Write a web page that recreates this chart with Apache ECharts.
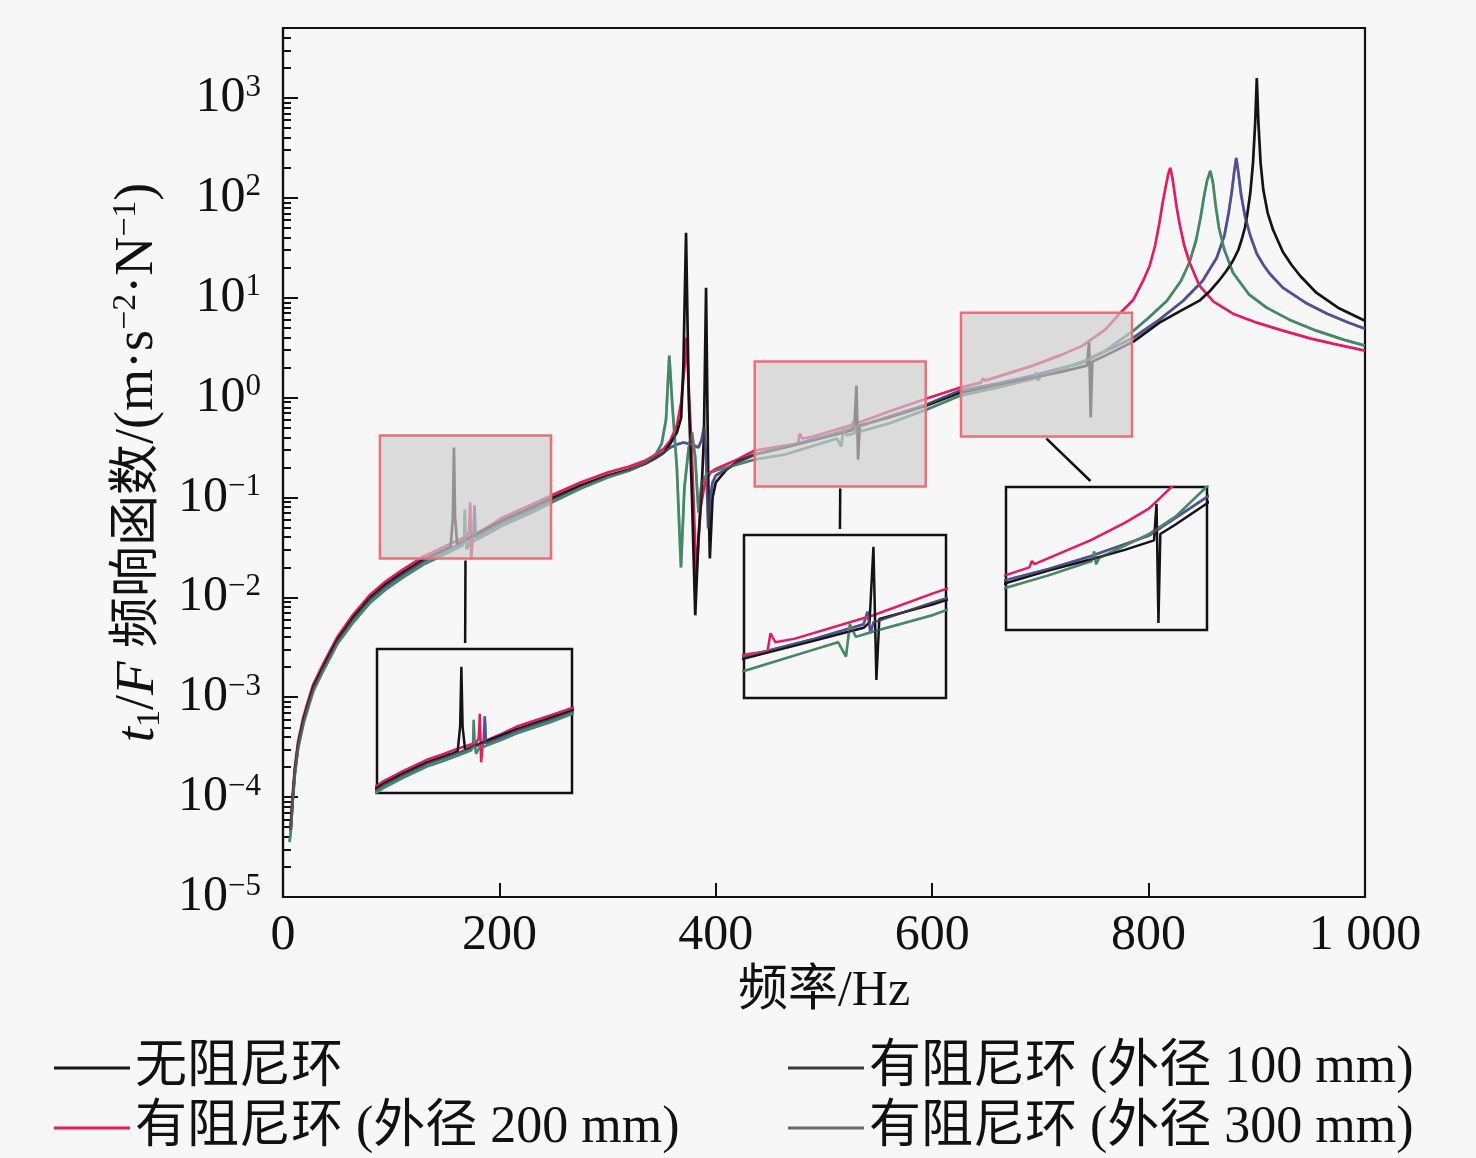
<!DOCTYPE html>
<html><head><meta charset="utf-8">
<script src="https://cdn.jsdelivr.net/npm/echarts@6/dist/echarts.min.js"></script>
<style>html,body{margin:0;padding:0;background:#f7f7f7}#c{width:1476px;height:1158px}</style>
</head><body><div id="c"></div>
<script>
const SERIF = '"Liberation Serif", "Noto Sans CJK SC", serif';

// ---- data: [frequency Hz, log10(t1/F)] ----
const seriesNames = ['无阻尼环', '有阻尼环 (外径 100 mm)', '有阻尼环 (外径 200 mm)', '有阻尼环 (外径 300 mm)'];

const noRing = [[7,-4.33],[9,-4.0],[11,-3.73],[14,-3.47],[18.8,-3.23],[24,-3.04],[28,-2.90],[37,-2.70],[50,-2.43],[65,-2.20],[80,-2.01],[95,-1.87],[111,-1.75],[130,-1.62],[142,-1.56],[150,-1.52],[155,-1.49],[157,-1.2],[158,-0.5],[159,-1.2],[161,-1.47],[173,-1.40],[203,-1.23],[230,-1.10],[250,-1.00],[275,-0.88],[300,-0.78],[320,-0.72],[335,-0.66],[345,-0.60],[352,-0.55],[358,-0.46],[364,-0.35],[368,-0.2],[370,0.3],[372.5,1.65],[375,0.0],[378,-1.0],[381,-2.18],[384,-1.4],[387,-0.9],[389,-0.4],[391,1.1],[393,-0.8],[394.5,-1.61],[397,-1.0],[400,-0.85],[410,-0.72],[420,-0.64],[436,-0.57],[464,-0.50],[500,-0.40],[525,-0.33],[528,-0.30],[530,0.12],[531.5,-0.62],[533,-0.28],[560,-0.20],[595,-0.08],[626,0.05],[660,0.13],[693,0.20],[720,0.26],[743,0.32],[745,0.55],[746.5,-0.2],[748,0.36],[760,0.42],[786,0.56],[810,0.75],[830,0.87],[847,0.97],[857,1.07],[865,1.17],[872,1.27],[878,1.37],[883,1.48],[886,1.58],[889,1.70],[891,1.82],[894,2.05],[896.5,2.35],[898.5,2.75],[900,3.2],[901.5,2.75],[903.5,2.35],[906,2.08],[910,1.85],[915,1.68],[924,1.46],[932,1.33],[940,1.22],[955,1.05],[975,0.9],[1000,0.77]];

const ring100 = [[7,-4.35],[9,-4.02],[11,-3.75],[14,-3.49],[18.8,-3.25],[24,-3.06],[28,-2.92],[37,-2.72],[50,-2.45],[65,-2.22],[80,-2.03],[95,-1.89],[111,-1.77],[130,-1.64],[142,-1.58],[155,-1.51],[170,-1.43],[176,-1.40],[177,-1.08],[178,-1.40],[190,-1.33],[203,-1.25],[230,-1.12],[250,-1.02],[275,-0.90],[300,-0.79],[320,-0.73],[335,-0.66],[345,-0.60],[352,-0.55],[358,-0.50],[364,-0.47],[370,-0.45],[378,-0.47],[384,-0.5],[387,-0.42],[389,-0.3],[391,-0.6],[393,-1.31],[395,-1.0],[397,-0.85],[400,-0.78],[420,-0.65],[436,-0.57],[464,-0.49],[500,-0.39],[525,-0.31],[527,-0.24],[528.5,-0.36],[530,-0.30],[560,-0.19],[595,-0.07],[626,0.07],[660,0.14],[693,0.22],[739,0.35],[786,0.60],[810,0.78],[832,0.97],[850,1.17],[863,1.40],[870,1.62],[874,1.85],[877,2.07],[879,2.25],[881,2.40],[883,2.25],[885.5,2.03],[889,1.82],[894,1.62],[900,1.44],[906,1.33],[912,1.24],[924,1.1],[945,0.95],[965,0.84],[985,0.75],[1000,0.69]];

const ring200 = [[7,-4.30],[9,-3.97],[11,-3.70],[14,-3.44],[18.8,-3.20],[24,-3.01],[28,-2.87],[37,-2.67],[50,-2.40],[65,-2.17],[80,-1.98],[95,-1.84],[111,-1.72],[130,-1.59],[142,-1.53],[155,-1.46],[170,-1.39],[172,-1.34],[173,-1.05],[174,-1.62],[175.5,-1.38],[190,-1.29],[203,-1.20],[230,-1.07],[250,-0.97],[275,-0.85],[300,-0.75],[320,-0.69],[335,-0.63],[345,-0.57],[352,-0.51],[358,-0.43],[364,-0.28],[368,-0.05],[371,0.3],[373,0.60],[375,0.1],[378,-0.6],[382,-1.78],[386,-1.1],[390,-0.85],[395,-0.75],[401,-0.71],[420,-0.62],[436,-0.53],[464,-0.48],[476,-0.46],[477.5,-0.36],[480,-0.41],[490,-0.39],[530,-0.26],[560,-0.14],[595,-0.01],[626,0.10],[645,0.15],[647,0.19],[649,0.17],[693,0.32],[720,0.43],[739,0.52],[760,0.68],[774,0.85],[786,0.98],[795,1.17],[801,1.32],[806,1.52],[810,1.75],[813,1.95],[816,2.12],[818,2.23],[820,2.30],[822,2.2],[824,2.05],[826,1.9],[829,1.72],[833,1.52],[838,1.35],[847,1.12],[860,0.96],[878,0.84],[900,0.75],[924,0.67],[950,0.59],[970,0.54],[1000,0.47]];

const ring300 = [[6,-4.45],[7,-4.37],[9,-4.04],[11,-3.77],[14,-3.51],[18.8,-3.27],[24,-3.08],[28,-2.94],[37,-2.74],[50,-2.47],[65,-2.25],[80,-2.06],[95,-1.92],[111,-1.80],[130,-1.67],[142,-1.61],[155,-1.54],[166,-1.48],[167.5,-1.40],[168,-1.12],[168.8,-1.42],[170,-1.52],[172,-1.46],[190,-1.36],[203,-1.28],[230,-1.15],[250,-1.04],[275,-0.91],[300,-0.80],[320,-0.73],[335,-0.65],[345,-0.56],[350,-0.46],[354,-0.22],[357,0.42],[360,-0.1],[364,-0.7],[367.8,-1.7],[371,-0.9],[375,-0.5],[378,-0.35],[381,-0.6],[384,-1.15],[387,-0.85],[392,-0.76],[400,-0.73],[420,-0.67],[436,-0.62],[464,-0.57],[500,-0.45],[512,-0.41],[516,-0.49],[518,-0.31],[521,-0.38],[530,-0.35],[560,-0.26],[595,-0.12],[626,0.02],[660,0.10],[694,0.19],[696,0.25],[697.5,0.17],[700,0.21],[739,0.36],[760,0.47],[786,0.67],[800,0.80],[817,0.97],[830,1.17],[838,1.36],[844,1.58],[848,1.80],[851,2.0],[854,2.17],[857,2.27],[859.5,2.15],[862,1.92],[865,1.70],[870,1.48],[878,1.25],[893,1.03],[909,0.9],[930,0.78],[955,0.67],[980,0.58],[1000,0.52]];

const xTicks = [0, 200, 400, 600, 800, 1000];
const yDecades = [-5, -4, -3, -2, -1, 0, 1, 2, 3];
const yTopExp = 3.7;

// magnified regions (Hz, log10) and the ranges shown in each inset
const zoomBoxes = [{x:[89.6,247.7], lg:[-1.61,-0.38]}, {x:[436,594], lg:[-0.89,0.36]}, {x:[626.6,784.7], lg:[-0.39,0.85]}];
const insetRanges = [{x:[89.6,247.7], lg:[-1.98,-0.29]}, {x:[464,567], lg:[-0.72,0.186]}, {x:[626.6,784.7], lg:[-0.244,0.656]}];

// ---- layout / style ----
const mainGrid = {left:283, top:28, width:1082, height:869};
const insetBoxes = [{left:377,top:649,width:195,height:144},{left:744,top:535,width:202,height:163},{left:1006,top:487,width:201,height:143}];
const connectorEnd = [0.452, 0.475, 0.42];
const colors = {noRing:'#141414', r100:'#3535a8', r200:'#e61a5c', r300:'#24905e', over:'#7a7a7a'};

const toPts = arr => arr.map(p => [p[0], Math.pow(10, p[1])]);
const minorTicks = [];
for (let e = -5; e <= 3; e++) for (let m = 2; m <= 9; m++) { const v = m * Math.pow(10, e); if (Math.log10(v) <= yTopExp) minorTicks.push(v); }
const supTxt = e => (e < 0 ? '\u2212' + (-e) : String(e));

function lines(xi, yi, w) {
  const mk = (name, data, color, extra) => Object.assign({
    type:'line', name, data: toPts(data), xAxisIndex:xi, yAxisIndex:yi, showSymbol:false, symbol:'none',
    lineStyle:{color, width:w}, itemStyle:{color}, silent:true, clip:true
  }, extra || {});
  return [
    mk(seriesNames[1], ring100, colors.r100),
    mk(seriesNames[3], ring300, colors.r300),
    mk(seriesNames[2], ring200, colors.r200),
    mk(seriesNames[0], noRing, colors.noRing),
    mk('ov100', ring100, colors.over, {lineStyle:{color:colors.over, width:w, opacity:0.4}}),
    mk('ov300', ring300, colors.over, {lineStyle:{color:colors.over, width:w, opacity:0.4}})
  ];
}

const grids = [Object.assign({show:true, borderColor:'#111', borderWidth:2.2, backgroundColor:'transparent'}, mainGrid)]
  .concat(insetBoxes.map(b => Object.assign({show:true, borderColor:'#111', borderWidth:2.5, backgroundColor:'#f7f7f7'}, b)));

const xAxes = [{
  type:'value', gridIndex:0, min:0, max:1000, interval:200,
  axisLine:{lineStyle:{color:'#111', width:2.2}},
  axisTick:{inside:true, length:14, lineStyle:{color:'#111', width:2}},
  axisLabel:{fontFamily:SERIF, fontSize:50, color:'#111', margin:14, formatter: v => v === 1000 ? '1 000' : String(v), customValues: xTicks},
  splitLine:{show:false},
  name:'频率/Hz', nameLocation:'middle', nameGap:70,
  nameTextStyle:{fontFamily:SERIF, fontSize:50, color:'#111'}
}].concat(insetRanges.map((r, i) => ({type:'value', gridIndex:i+1, min:r.x[0], max:r.x[1], show:false, splitLine:{show:false}})));

const yAxes = [{
  type:'log', logBase:10, gridIndex:0, min:Math.pow(10,-5), max:Math.pow(10,yTopExp), position:'left',
  axisLine:{lineStyle:{color:'#111', width:2.2}},
  axisTick:{inside:true, length:15, lineStyle:{color:'#111', width:2}, customValues: yDecades.map(e => Math.pow(10, e))},
  axisLabel:{customValues: yDecades.map(e => Math.pow(10, e)), margin:22, color:'#111',
    formatter: v => '{b|10}{s|' + supTxt(Math.round(Math.log10(v))) + '}',
    rich:{ b:{fontFamily:SERIF, fontSize:50, lineHeight:52, color:'#111'}, s:{fontFamily:SERIF, fontSize:31, verticalAlign:'top', color:'#111'} }},
  splitLine:{show:false},
  name:'{i|t}{sub|1}{n|/}{i|F}{n| }{c|频响函数}{n|/(m·s}{sup|\u22122}{n|·N}{sup|\u22121}{n|)}',
  nameLocation:'middle', nameGap:112,
  nameTextStyle:{fontFamily:SERIF, fontSize:54, color:'#111', rich:{
    i:{fontFamily:SERIF, fontSize:55, fontStyle:'italic', lineHeight:58, color:'#111'},
    n:{fontFamily:SERIF, fontSize:54, lineHeight:58, color:'#111'},
    c:{fontFamily:SERIF, fontSize:51, lineHeight:58, color:'#111'},
    sub:{fontFamily:SERIF, fontSize:34, verticalAlign:'bottom', color:'#111'},
    sup:{fontFamily:SERIF, fontSize:34, verticalAlign:'top', color:'#111'} }}
}, {
  type:'log', logBase:10, gridIndex:0, min:Math.pow(10,-5), max:Math.pow(10,yTopExp), position:'left',
  axisLine:{show:false}, axisLabel:{show:false}, splitLine:{show:false},
  axisTick:{inside:true, length:8, lineStyle:{color:'#111', width:2}, customValues: minorTicks}
}].concat(insetRanges.map((r, i) => ({type:'log', logBase:10, gridIndex:i+1, min:Math.pow(10,r.lg[0]), max:Math.pow(10,r.lg[1]), show:false, splitLine:{show:false}})));

let series = lines(0, 0, 2.7);
insetRanges.forEach((r, i) => { series = series.concat(lines(i+1, i+2, 2.5)); });
series.push({
  type:'line', name:'zoomRects', data:[], xAxisIndex:0, yAxisIndex:0, silent:true,
  markArea:{ z:5, silent:true,
    itemStyle:{color:'rgba(205,205,205,0.68)', borderColor:'#e8707a', borderWidth:2.5},
    data: zoomBoxes.map(b => [{coord:[b.x[0], Math.pow(10, b.lg[1])]}, {coord:[b.x[1], Math.pow(10, b.lg[0])]}]) }
});

const legendText = {fontFamily:SERIF, fontSize:52, color:'#111', lineHeight:56};
const legendBase = {orient:'vertical', top:1040, height:118, padding:0, itemWidth:76, itemHeight:3, icon:'rect', itemGap:4, selectedMode:false, textStyle:legendText};
const option = {
  animation:false,
  backgroundColor:'#f7f7f7',
  grid: grids, xAxis: xAxes, yAxis: yAxes, series,
  legend:[
    Object.assign({left:54, data:[{name:seriesNames[0]}, {name:seriesNames[2]}]}, legendBase),
    Object.assign({left:788, data:[{name:seriesNames[1], itemStyle:{color:'#3a3a3a'}}, {name:seriesNames[3], itemStyle:{color:'#6a6a6a'}}]}, legendBase)
  ]
};

const chart = echarts.init(document.getElementById('c'));
chart.setOption(option);

// connector lines from each magnified region to its inset
const graphic = zoomBoxes.map((b, i) => {
  const p = chart.convertToPixel({xAxisIndex:0, yAxisIndex:0}, [(b.x[0] + b.x[1]) / 2, Math.pow(10, b.lg[0])]);
  const ib = insetBoxes[i];
  const ex = ib.left + connectorEnd[i] * ib.width;
  return {type:'line', z:10, shape:{x1:p[0], y1:p[1] + 2, x2:ex, y2:ib.top - 6}, style:{stroke:'#111', lineWidth:2.5}};
});
chart.setOption({graphic});
</script></body></html>
